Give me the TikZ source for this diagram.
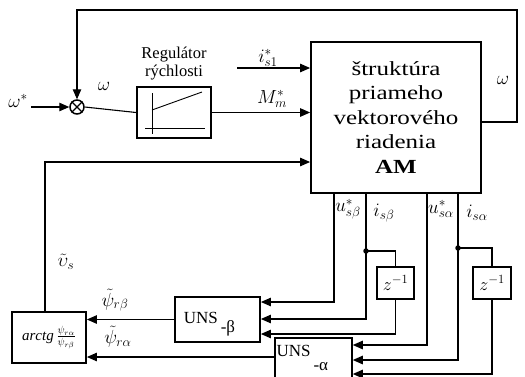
\RequirePackage{fix-cm}
\documentclass[tikz,border=0pt]{standalone}
\usepackage{fontspec}
\setmainfont{Liberation Serif}
\newfontfamily\widefont[FakeStretch=1.25]{Liberation Serif}
\usetikzlibrary{arrows.meta, positioning, calc}

\begin{document}
\begin{tikzpicture}[
      x=1pt, y=-1pt,
      box/.style={draw, line width=1.8pt, inner sep=0pt},
      sig/.style={line width=1.1pt},
      arrow/.style={sig, -{Triangle[length=10pt, width=8.5pt]}},
      lbl/.style={inner sep=0pt, font=\fontsize{19}{21}\selectfont},
      dot/.style={circle, fill, inner sep=0pt, minimum size=5.5pt},
      unslbl/.style={font=\fontsize{17}{19}\selectfont, text height=12pt, text depth=0pt}
  ]
      \useasboundingbox (0,0) rectangle (525,376);

      % Blocks
      \node[box, minimum width=170pt, minimum height=151pt, align=center,
            font=\widefont\fontsize{20}{24.5}\selectfont] (main) at (396,117.5)
            {štruktúra\\priameho\\vektorového\\riadenia\\\textbf{AM}};
      \node[box, minimum width=74pt, minimum height=51pt] (reg) at (174,112.5) {};
      \node[align=center, inner sep=0pt, font=\fontsize{16.5}{17.5}\selectfont, above=6pt of reg] (reglbl) {Regulátor\\rýchlosti};
      \node[circle, draw, line width=1.5pt, minimum size=14pt, inner sep=0pt] (sum) at (77,107) {};
      \node[box, minimum width=74pt, minimum height=51pt, font=\fontsize{15}{17}\selectfont] (arctg) at (49,337.5)
            {$\mathit{arctg}\,\frac{\psi_{r\alpha}}{\psi_{r\beta}}$};
      \node[box, minimum width=85pt, minimum height=45pt, unslbl] (unsb) at (217.5,319.5)
            {\raisebox{2pt}{UNS\raisebox{-9pt}{\,-β}}\hspace*{16pt}};
      \node[box, minimum width=77pt, minimum height=50pt, unslbl, anchor=north west] (unsa) at (274,337)
            {\raisebox{12pt}{UNS\raisebox{-14pt}{\,-α}}\hspace*{22pt}};
      \node[box, minimum width=37pt, minimum height=32pt, font=\fontsize{18}{20}\selectfont] (zb) at (395.5,283) {$z^{-1}$};
      \node[box, minimum width=38pt, minimum height=32pt, font=\fontsize{18}{20}\selectfont] (za) at (492,283) {$z^{-1}$};

      % Regulator characteristic
      \draw[line width=0.9pt] (152,93) -- (152,134);
      \draw[line width=0.9pt] (145,128) -- (205,128);
      \draw[line width=0.9pt] (152,110) -- (202,92);
      \draw[line width=1.4pt] (sum.north west) -- (sum.south east);
      \draw[line width=1.4pt] (sum.north east) -- (sum.south west);

      % Coordinates
      \coordinate (win) at (31,107);
      \coordinate (isin) at (237,68);
      \coordinate (fbr) at (517,122);
      \coordinate (fbt) at (517,10);
      \coordinate (fbl) at (77,10);
      \coordinate (nu) at (45,162);
      \coordinate (cub) at (334,302);
      \coordinate (cib) at (366,319);
      \coordinate (jb) at (366,251);
      \coordinate (czb) at (395.5,334);
      \coordinate (cua) at (427,345);
      \coordinate (cia) at (458,360);
      \coordinate (ja) at (458,248);
      \coordinate (cza) at (492,374);

      % Speed loop
      \draw[arrow] (win) -- (sum.west);
      \draw[sig] (sum.east) -- (reg.west);
      \draw[arrow] (reg.east) -- (reg.east -| main.west);
      \draw[arrow] (isin) -- (isin -| main.west);
      \draw[arrow] (main.east |- fbr) -- (fbr) -- (fbt) -- (fbl) -- (sum.north);
      \draw[arrow] ([xshift=-4pt]arctg.north) -- (nu) -- (nu -| main.west);

      % Outputs of the vector control
      \draw[arrow] (main.south -| cub) -- (cub) -- (cub -| unsb.east);
      \draw[arrow] (main.south -| cib) -- (cib) -- (cib -| unsb.east);
      \draw[sig] (jb) -- (jb -| zb) -- (zb.north);
      \draw[arrow] (zb.south) -- (czb) -- (czb -| unsb.east);
      \draw[arrow] (main.south -| cua) -- (cua) -- (cua -| unsa.east);
      \draw[arrow] (main.south -| cia) -- (cia) -- (cia -| unsa.east);
      \draw[sig] (ja) -- (ja -| za) -- (za.north);
      \draw[arrow] (za.south) -- (cza) -- (cza -| unsa.east);
      \node[dot] at (jb) {};
      \node[dot] at (ja) {};

      % Estimated fluxes
      \draw[arrow] (unsb.west) -- (unsb.west -| arctg.east);
      \draw[arrow] ([yshift=-20pt]unsa.north west) -- ([yshift=-20pt]unsa.north west -| arctg.east);

      % Labels
      \node[lbl] at (18,101) {$\omega^*$};
      \node[lbl] at (104,86) {$\omega$};
      \node[lbl] at (503,80) {$\omega$};
      \node[lbl] at (268,58) {$i^*_{s1}$};
      \node[lbl] at (272,99) {$M^*_m$};
      \node[lbl] at (66,262) {$\tilde{\upsilon}_s$};
      \node[lbl] at (115,300) {$\tilde{\psi}_{r\beta}$};
      \node[lbl] at (118,337) {$\tilde{\psi}_{r\alpha}$};
      \node[lbl] at (348,209) {$u^*_{s\beta}$};
      \node[lbl] at (384,213) {$i_{s\beta}$};
      \node[lbl] at (441,209) {$u^*_{s\alpha}$};
      \node[lbl] at (477,213) {$i_{s\alpha}$};
  \end{tikzpicture}
\end{document}
